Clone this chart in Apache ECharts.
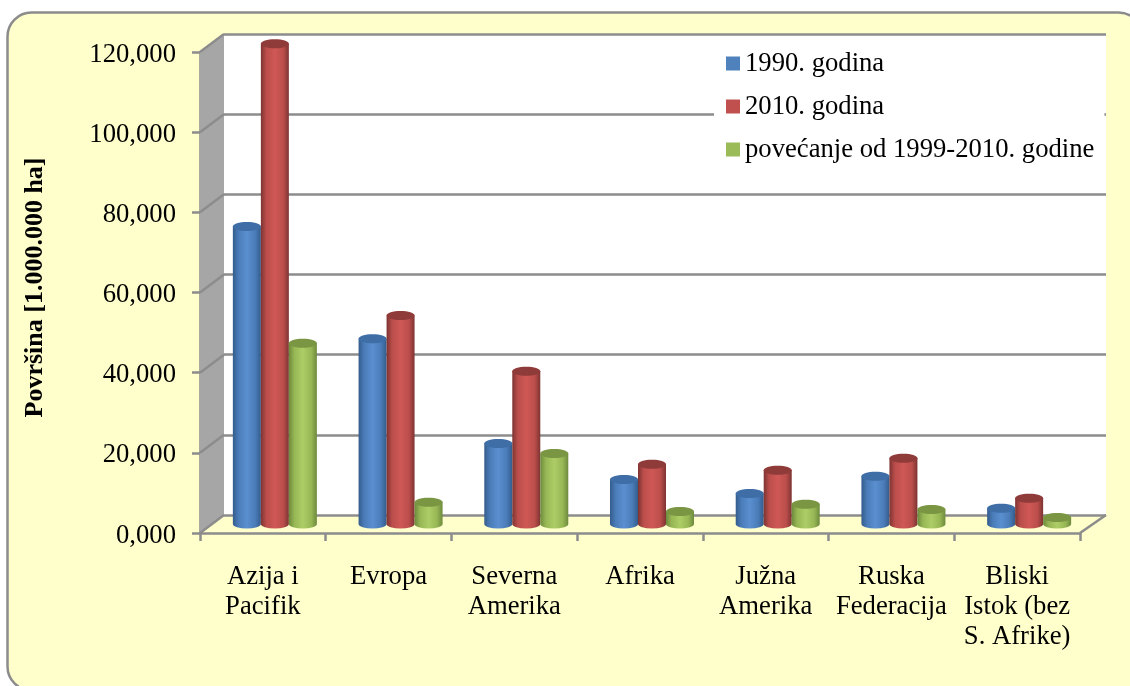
<!DOCTYPE html>
<html>
<head>
<meta charset="utf-8">
<style>
html,body{margin:0;padding:0;background:#fff;overflow:hidden}
#main{width:1130px;height:686px}
</style>
<script src="https://cdn.jsdelivr.net/npm/echarts@6/dist/echarts.min.js"></script>
</head>
<body>
<div id="main"></div>
<script>
var categories = ['Azija i\nPacifik','Evropa','Severna\nAmerika','Afrika','Južna\nAmerika','Ruska\nFederacija','Bliski\nIstok (bez\nS. Afrike)']
var s1990 = [74200,46200,20100,11100,7600,11900,3900]
var s2010 = [119800,52000,38100,14900,13400,16400,6400]
var sRast = [45100,5400,17600,3100,4900,3600,1600]
var yTicks = [0,20000,40000,60000,80000,100000,120000]

var font = '"Liberation Serif","Times New Roman",serif'
var DX = 24, DY = -18 //dubina 3d zida

var chart = echarts.init(document.getElementById('main'))

function shade(c1,c2,c3){
	return new echarts.graphic.LinearGradient(0,0,1,0,[
		{offset:0,color:c1},{offset:0.2,color:c3},{offset:0.5,color:c2},{offset:0.8,color:c3},{offset:1,color:c1}
	])
}

function cylinder(idx,colors){
	return function(params,api){
		var w = 28
		var top = api.coord([api.value(0),api.value(1)])
		var base = api.coord([api.value(0),0])
		var x = top[0] + DX/2 + (idx-1)*w - w/2
		var yt = top[1] + DY/2
		var yb = base[1] + DY/2
		var ry = 4.5
		return {type:'group',children:[
			{type:'path',shape:{
				pathData:'M'+x+' '+yt+'L'+x+' '+yb+'A'+(w/2)+' '+ry+' 0 0 0 '+(x+w)+' '+yb+'L'+(x+w)+' '+yt+'Z'
			},style:{fill:shade(colors[0],colors[1],colors[2])}},
			{type:'ellipse',shape:{cx:x+w/2,cy:yt,rx:w/2,ry:ry},style:{fill:colors[3]}}
		]}
	}
}

var option = {
	animation:false,
	textStyle:{fontFamily:font},
	graphic:[{
		type:'rect',z:-10,silent:true,
		shape:{x:7.5,y:12.5,width:1135,height:678,r:24},
		style:{fill:'#ffffcc',stroke:'#8c8c8c',lineWidth:2.5}
	}],
	legend:{
		orient:'vertical',left:714,top:40,
		padding:[10,10,16,12],
		itemGap:16,itemWidth:14,itemHeight:14,
		backgroundColor:'#fff',
		icon:'rect',
		textStyle:{fontFamily:font,fontSize:26.67,color:'#000'},
		data:['1990. godina','2010. godina','povećanje od 1999-2010. godine']
	},
	grid:[
		{left:200,right:50,top:52,bottom:153},
		{left:224,right:24,top:34,bottom:171,show:true,backgroundColor:'#fff',borderWidth:0}
	],
	xAxis:[{
		type:'category',gridIndex:0,data:categories,
		axisLine:{lineStyle:{color:'#8c8c8c',width:2.5}},
		axisTick:{show:true,alignWithLabel:false,length:8,lineStyle:{color:'#8c8c8c',width:2.5}},
		axisLabel:{interval:0,color:'#000',fontFamily:font,fontSize:26.67,lineHeight:30,margin:29}
	},{
		type:'category',gridIndex:1,data:categories,show:false
	}],
	yAxis:[{
		type:'value',gridIndex:0,min:0,max:120000,interval:20000,
		name:'Površina [1.000.000 ha]',nameLocation:'middle',nameGap:152,
		nameTextStyle:{fontFamily:font,fontWeight:'bold',fontSize:26,color:'#000',padding:[0,0,0,10]},
		axisLine:{show:true,lineStyle:{color:'#8c8c8c',width:2.5}},
		axisTick:{show:true,length:8,lineStyle:{color:'#8c8c8c',width:2.5}},
		axisLabel:{margin:24,
			formatter:function(v){
				return '{t|'+Math.floor(v/1000)+',000}'
			},
			rich:{t:{color:'#000',fontFamily:font,fontSize:26.67,padding:[5,0,0,0]}}
		},
		splitLine:{show:false}
	},{
		type:'value',gridIndex:1,min:0,max:120000,interval:20000,
		axisLine:{show:false},axisTick:{show:false},axisLabel:{show:false},
		splitLine:{show:true,lineStyle:{color:'#8c8c8c',width:2.5}}
	}],
	series:[{
		//bocni zid i dijagonale poda
		type:'custom',xAxisIndex:0,yAxisIndex:0,z:1,silent:true,legendHoverLink:false,
		data:yTicks.map(function(v){return [0,v]}),
		renderItem:function(params,api){
			var cs = params.coordSys
			var p = api.coord([0,api.value(1)])
			var x0 = cs.x, yy = p[1]
			var line = {stroke:'#8c8c8c',lineWidth:2.5}
			var ch = [{type:'line',shape:{x1:x0,y1:yy,x2:x0+DX,y2:yy+DY},style:line}]
			if(params.dataIndex===0){
				ch.unshift({type:'polygon',shape:{points:[[x0,cs.y],[x0+DX,cs.y+DY],[x0+DX,yy+DY],[x0,yy]]},style:{fill:'#a6a6a6'}})
				ch.push({type:'line',shape:{x1:cs.x+cs.width,y1:yy,x2:cs.x+cs.width+DX+2,y2:yy+DY},style:line})
			}
			return {type:'group',children:ch}
		}
	},{
		name:'1990. godina',type:'custom',xAxisIndex:0,yAxisIndex:0,z:3,
		itemStyle:{color:'#4f81bd'},
		data:s1990.map(function(v,i){return [i,v]}),
		encode:{x:0,y:1},
		renderItem:cylinder(0,['#345c8c','#5a8fd0','#4a7cb8','#3f6ea6'])
	},{
		name:'2010. godina',type:'custom',xAxisIndex:0,yAxisIndex:0,z:3,
		itemStyle:{color:'#c0504d'},
		data:s2010.map(function(v,i){return [i,v]}),
		encode:{x:0,y:1},
		renderItem:cylinder(1,['#7d3432','#cf5855','#bb4e4b','#8f3b39'])
	},{
		name:'povećanje od 1999-2010. godine',type:'custom',xAxisIndex:0,yAxisIndex:0,z:3,
		itemStyle:{color:'#9bbb59'},
		data:sRast.map(function(v,i){return [i,v]}),
		encode:{x:0,y:1},
		renderItem:cylinder(2,['#6d8a3c','#accd66','#97b755','#7a9643'])
	}]
}
chart.setOption(option)
</script>
</body>
</html>
